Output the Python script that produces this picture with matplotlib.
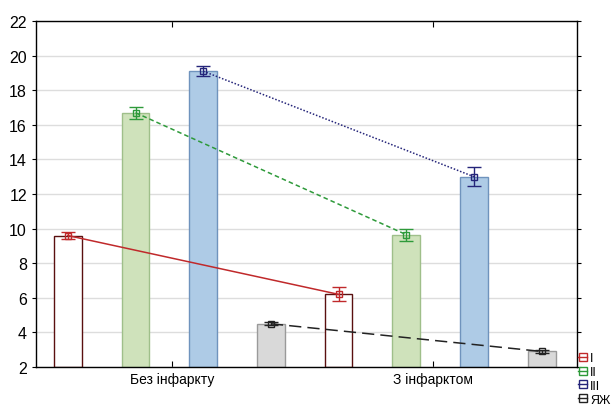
import matplotlib
matplotlib.use("Agg")
import matplotlib.pyplot as plt
from matplotlib.lines import Line2D

plt.rcParams["font.family"] = ["Liberation Sans", "DejaVu Sans"]

groups = ["Без інфаркту", "З інфарктом"]
series = ["I", "II", "III", "ЯЖ"]
means = {
    "I": [9.6, 6.2],
    "II": [16.7, 9.65],
    "III": [19.1, 13.0],
    "ЯЖ": [4.5, 2.9],
}
errors = {
    "I": [0.2, 0.4],
    "II": [0.35, 0.35],
    "III": [0.3, 0.55],
    "ЯЖ": [0.1, 0.1],
}

face = {"I": "white", "II": "#cfe2bb", "III": "#aecbe6", "ЯЖ": "#d9d9d9"}
edge = {"I": "#5a1010", "II": "#9fbf8a", "III": "#6f93bd", "ЯЖ": "#9a9a9a"}
line_col = {"I": "#c0292b", "II": "#2e9a3a", "III": "#25257a", "ЯЖ": "#222222"}
line_style = {"I": "-", "II": (0, (3, 2)), "III": (0, (1, 1.2)), "ЯЖ": (0, (8, 4))}

fig = plt.figure(figsize=(6.14, 4.10), dpi=100)
ax = fig.add_axes([0.0586, 0.1024, 0.881, 0.8439])

n = len(series)
for i, s in enumerate(series):
    xs = [i, n + i]
    ax.bar(xs, [means[s][0] - 2, means[s][1] - 2], bottom=2, width=0.41,
           color=face[s], edgecolor=edge[s], linewidth=1.0, zorder=2)
    ax.plot(xs, means[s], color=line_col[s], linestyle=line_style[s],
            linewidth=1.1, zorder=3)
    ax.errorbar(xs, means[s], yerr=errors[s], fmt="s", ms=5, mfc="none",
                mec=line_col[s], ecolor=line_col[s], elinewidth=1.0,
                capsize=5, capthick=1.0, zorder=4)

ax.set_xlim(-0.47, 7.52)
ax.set_ylim(2, 22)
ax.set_yticks(range(2, 23, 2))
ax.set_xticks([1.54, 5.39])
ax.set_xticklabels(groups)
ax.tick_params(axis="x", direction="in", length=4, top=True, labelsize=10)
ax.tick_params(axis="y", direction="out", length=3, right=True, labelsize=11.5)
ax.grid(axis="y", color="#dddddd", linewidth=1.0, zorder=0)
ax.set_axisbelow(True)
for sp in ax.spines.values():
    sp.set_color("black")
    sp.set_linewidth(1.0)

handles = [Line2D([0], [0], color=line_col[s], marker="s", mfc="none",
                  ms=6, linestyle="-", linewidth=1.0) for s in series]
fig.legend(handles, series, loc="lower left", bbox_to_anchor=(0.942, 0.008),
           frameon=False, fontsize=9, handlelength=0.7, handletextpad=0.25,
           labelspacing=0.15, borderaxespad=0, borderpad=0)

fig.savefig("out.png", dpi=100)
